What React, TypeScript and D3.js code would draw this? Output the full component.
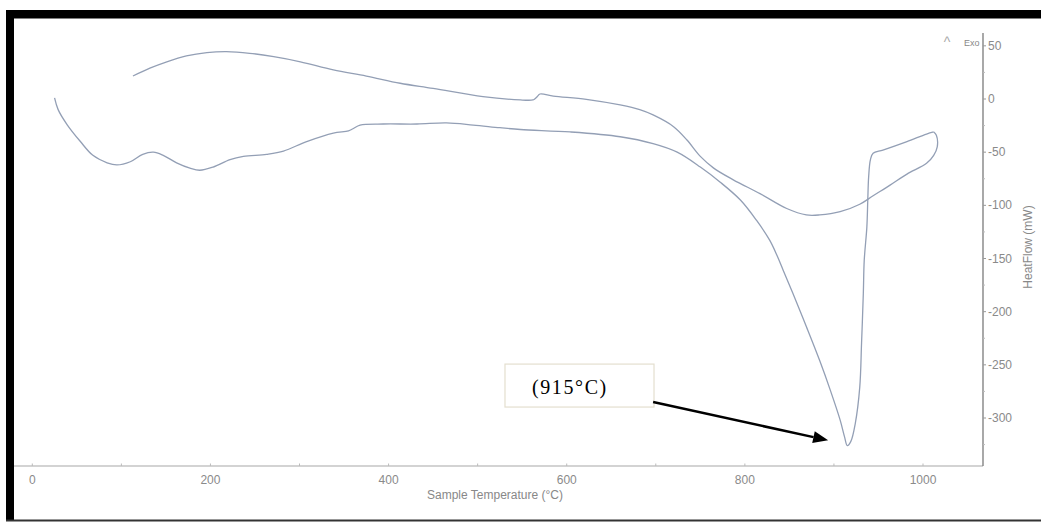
import React from "react";
import * as d3 from "d3";

// DSC run: heating trace (T °C, heat flow mW) up to the turnaround at ~1012 °C
const heatingT = [25, 29, 39, 54, 68, 84, 95, 110, 124, 136, 147, 162, 177, 188, 203, 222, 237, 263, 282, 308, 338, 355, 360, 368, 394, 432, 465, 495, 525, 548, 604, 660, 697, 724, 750, 772, 795, 813, 828, 836, 843, 854, 869, 884, 896, 907, 912, 915, 919, 924, 929, 931, 933, 934, 937, 938, 939, 941, 944, 955, 982, 1004, 1012];
const heatingHF = [1, -10, -24, -40, -53, -60, -62, -59, -52, -50, -53, -60, -65, -67, -64, -57, -54, -52, -49, -40, -32, -30, -28, -24.5, -23.5, -23.5, -22.5, -24.5, -27, -28.7, -31, -35.5, -42, -50, -64, -78, -95, -114, -133, -147, -161, -183, -214, -246, -274, -302, -318, -326, -322, -305, -271, -230, -183, -152, -120, -95, -73, -57, -51, -48, -40, -33, -31];

// Cooling trace, from the turnaround back down to ~113 °C
const coolingT = [1012, 1015, 1016, 1012, 1004, 982, 963, 944, 929, 907, 884, 869, 847, 817, 787, 765, 750, 735, 720, 697, 682, 660, 622, 585, 570, 567, 564, 562, 548, 506, 450, 413, 375, 338, 301, 271, 244, 218, 196, 173, 151, 132, 113];
const coolingHF = [-31, -34, -45, -53, -60.5, -70.6, -81, -91, -99, -106, -109, -109, -103, -89, -76, -65, -54, -38.6, -26, -15, -10, -5.6, -0.3, 2.8, 4.7, 2.4, 0, -0.9, -0.9, 2.2, 10, 14.8, 21.6, 27.3, 35, 39.8, 43, 44.5, 43.6, 40.5, 35, 29, 21.6];

const xTicks = [0, 200, 400, 600, 800, 1000];
const xMinorTicks = [0, 100, 200, 300, 400, 500, 600, 700, 800, 900, 1000];
const yTicks = [50, 0, -50, -100, -150, -200, -250, -300];
const yMinorTicks = [25, -25, -75, -125, -175, -225, -275, -325];

const peakLabel = "(915°C)";

const W = 1041;
const H = 522;

export default function App() {
  const x = d3.scaleLinear().domain([0, 1000]).range([32.3, 923]);
  const y = d3.scaleLinear().domain([0, -300]).range([99, 418]);

  const axisRight = 983;
  const axisBottom = 466;
  const axisTop = 33;
  const axisLeft = 14;

  const line = d3
    .line<[number, number]>()
    .x((d) => x(d[0]))
    .y((d) => y(d[1]))
    .curve(d3.curveCatmullRom.alpha(0.5));

  const heating: [number, number][] = heatingT.map((t, i) => [t, heatingHF[i]]);
  const cooling: [number, number][] = coolingT.map((t, i) => [t, coolingHF[i]]);

  const traceColor = "#939fb5";
  const tickColor = "#8a8a8a";
  const font = "'Liberation Sans', Arial, sans-serif";

  // annotation anchored in data coordinates
  const boxX0 = x(530.7), boxX1 = x(698);
  const boxY0 = y(-249.3), boxY1 = y(-289.7);
  const arrowStart: [number, number] = [x(697), y(-285)];
  const arrowTip: [number, number] = [x(893.5), y(-321)];
  const ang = Math.atan2(arrowTip[1] - arrowStart[1], arrowTip[0] - arrowStart[0]);
  const headLen = 15;
  const headHalf = 6;
  const baseX = arrowTip[0] - headLen * Math.cos(ang);
  const baseY = arrowTip[1] - headLen * Math.sin(ang);
  const head = [
    [arrowTip[0], arrowTip[1]],
    [baseX + headHalf * Math.sin(ang), baseY - headHalf * Math.cos(ang)],
    [baseX - headHalf * Math.sin(ang), baseY + headHalf * Math.cos(ang)],
  ]
    .map((p) => p.join(","))
    .join(" ");

  return (
    <svg
      width={W}
      height={H}
      style={{ position: "absolute", left: 0, top: 0, display: "block", background: "#fff" }}
    >
      {/* page frame */}
      <rect x={6} y={10} width={W - 6} height={8.5} fill="#000" />
      <rect x={6} y={10} width={8} height={510} fill="#000" />
      <rect x={6} y={519.5} width={W - 6} height={2} fill="#333" />

      {/* bottom axis */}
      <line x1={axisLeft} x2={axisRight} y1={axisBottom} y2={axisBottom} stroke="#a8a8a8" strokeWidth={1.2} />
      {xMinorTicks.map((t) => (
        <line key={"xm" + t} x1={x(t)} x2={x(t)} y1={axisBottom - 2.5} y2={axisBottom} stroke="#bbb" strokeWidth={1} />
      ))}
      {xTicks.map((t) => (
        <text key={"xt" + t} x={x(t)} y={484} textAnchor="middle" fontFamily={font} fontSize={12} fill={tickColor}>
          {t}
        </text>
      ))}
      <text x={495} y={499} textAnchor="middle" fontFamily={font} fontSize={12} fill="#888">
        Sample Temperature (°C)
      </text>

      {/* right axis */}
      <line x1={axisRight} x2={axisRight} y1={axisTop} y2={axisBottom} stroke="#7a7a7a" strokeWidth={1.3} />
      {yTicks.map((v) => (
        <g key={"yt" + v}>
          <line x1={axisRight} x2={axisRight + 3} y1={y(v)} y2={y(v)} stroke="#999" strokeWidth={1} />
          <text x={988} y={y(v) + 4} fontFamily={font} fontSize={12} fill={tickColor}>
            {v < 0 ? "-" + Math.abs(v) : String(v)}
          </text>
        </g>
      ))}
      {yMinorTicks.map((v) => (
        <line key={"ym" + v} x1={axisRight} x2={axisRight + 2} y1={y(v)} y2={y(v)} stroke="#bbb" strokeWidth={1} />
      ))}
      <text
        transform={`translate(1032, 247) rotate(-90)`}
        textAnchor="middle"
        fontFamily={font}
        fontSize={12}
        fill="#888"
      >
        HeatFlow (mW)
      </text>
      <text x={947} y={47} textAnchor="middle" fontFamily={font} fontSize={14} fill="#aaa">
        ^
      </text>
      <text x={964} y={46} fontFamily={font} fontSize={9} fill="#888">
        Exo
      </text>

      {/* traces */}
      <path d={line(heating) ?? ""} fill="none" stroke={traceColor} strokeWidth={1.3} />
      <path d={line(cooling) ?? ""} fill="none" stroke={traceColor} strokeWidth={1.3} />

      {/* peak annotation */}
      <rect x={boxX0} y={boxY0} width={boxX1 - boxX0} height={boxY1 - boxY0} fill="#fff" stroke="#e4dfcf" strokeWidth={1.2} />
      <text x={532} y={394} fontFamily="'Liberation Serif', 'Times New Roman', serif" fontSize={20} letterSpacing={1.6} fill="#000">
        {peakLabel}
      </text>
      <line x1={arrowStart[0]} y1={arrowStart[1]} x2={baseX} y2={baseY} stroke="#000" strokeWidth={2.5} />
      <polygon points={head} fill="#000" />
    </svg>
  );
}
